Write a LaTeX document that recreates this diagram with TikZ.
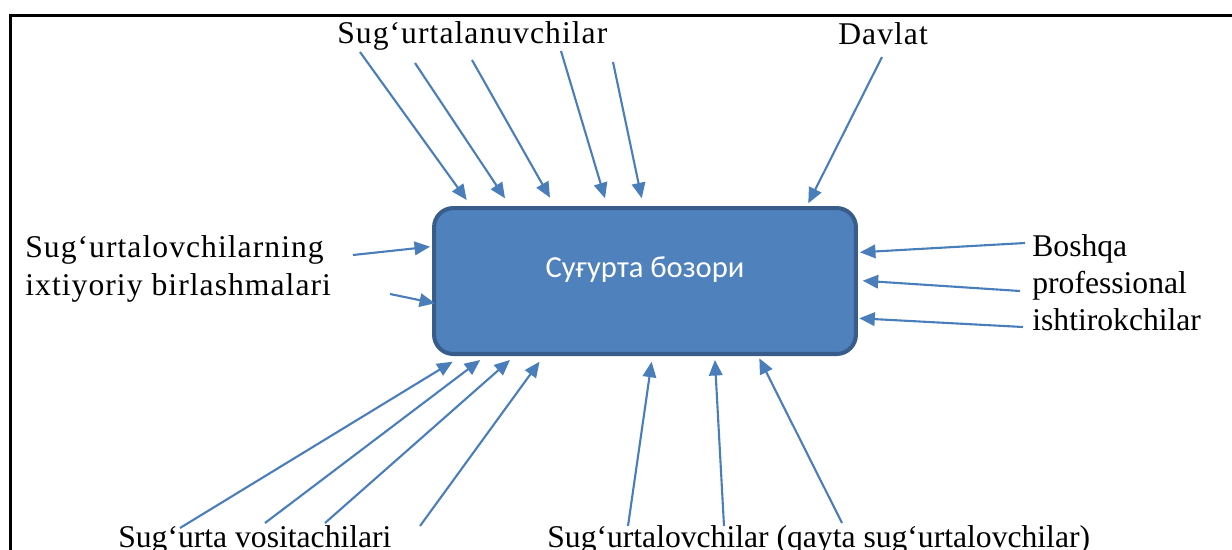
\documentclass[tikz,border=0pt]{standalone}
\usepackage{fontspec}
\setmainfont{Liberation Serif}
\newfontfamily\boxfont{Carlito}
\usetikzlibrary{arrows.meta,calc}
\definecolor{ink}{HTML}{000000}
\definecolor{mktfill}{HTML}{4F81BD}
\definecolor{mktline}{HTML}{385D8A}
\definecolor{feedc}{HTML}{4A7EBB}
\tikzset{
  mkt/.style={draw=mktline, line width=2.3pt, rounded corners=11pt, fill=mktfill,
              minimum width=8.44cm, minimum height=2.92cm, inner sep=0pt},
  mktlbl/.style={font=\boxfont\fontsize{17.4}{21}\selectfont, text=white, inner sep=0pt, anchor=base},
  who/.style={font=\fontsize{18}{20.8}\selectfont, align=left, inner sep=0pt, anchor=base west},
  whox/.style={who, font=\fontsize{18}{21.5}\selectfont\addfontfeatures{LetterSpace=3.3}},
  feed/.style={-{Triangle[length=3.1mm,width=2.7mm]}, line width=1.2pt, draw=feedc},
  frame/.style={draw=ink, line width=1.7pt},
}

\begin{document}
\begin{tikzpicture}[x=0.02cm, y=-0.02cm]
\useasboundingbox (0,0) rectangle (1232,549);
\clip (0,0) rectangle (1232,549);
\draw[frame] (10.5,560) |- (1240,15.5);
% market
\node[mkt] (market) at (645,281) {};
\node[mktlbl] (mkttxt) at (645,277) {Суғурта бозори};
% participants (base = last line)
\node[whox] (insured) at (337,43)  {Sug‘urtalanuvchilar};
\node[whox] (state)   at (838,44)  {Davlat};
\node[whox] (assoc)   at (25,295)  {Sug‘urtalovchilarning\\ixtiyoriy birlashmalari};
\node[who]  (other)   at (1032,330) {Boshqa\\professional\\ishtirokchilar};
\node[who]  (broker)  at (118,547) {Sug‘urta vositachilari};
\node[who]  (insurer) at (547,547) {Sug‘urtalovchilar (qayta sug‘urtalovchilar)};
% arrow tails
\coordinate (u1) at (360,52);  \coordinate (u2) at (415,63);  \coordinate (u3) at (472,60);
\coordinate (u4) at (561,51);  \coordinate (u5) at (613,62);  \coordinate (d1) at (882,57);
\coordinate (a1) at (353,255); \coordinate (a2) at (390,294);
\coordinate (p1) at (1025,243); \coordinate (p2) at (1020,291); \coordinate (p3) at (1023,327);
\coordinate (v1) at (180,528); \coordinate (v2) at (265,523); \coordinate (v3) at (325,523);
\coordinate (v4) at (420,526);
\coordinate (r1) at (628,526); \coordinate (r2) at (724,526); \coordinate (r3) at (842,523);
% top
\draw[feed] (u1) -- ($(market.north west)+(34.7,-6)$);
\draw[feed] (u2) -- ($(market.north west)+(73,-7.7)$);
\draw[feed] (u3) -- ($(market.north west)+(118,-8.3)$);
\draw[feed] (u4) -- ($(market.north west)+(173,-7.7)$);
\draw[feed] (u5) -- ($(market.north west)+(209.7,-7.7)$);
\draw[feed] (d1) -- ($(market.north east)+(-49.7,-2.7)$);
% left / right
\draw[feed] (a1) -- ($(market.north west)+(-2,40.7)$);
\draw[feed] (a2) -- ($(market.north west)+(3,97.3)$);
\draw[feed] (p1) -- ($(market.north east)+(2,46.3)$);
\draw[feed] (p2) -- ($(market.north east)+(4.7,74.7)$);
\draw[feed] (p3) -- ($(market.north east)+(1.3,112.3)$);
% bottom
\draw[feed] (v1) -- ($(market.south west)+(20.6,5.7)$);
\draw[feed] (v2) -- ($(market.south west)+(48.2,4)$);
\draw[feed] (v3) -- ($(market.south west)+(77.9,4)$);
\draw[feed] (v4) -- ($(market.south west)+(107.5,5.7)$);
\draw[feed] (r1) -- ($(market.south west)+(219.6,5.7)$);
\draw[feed] (r2) -- ($(market.south west)+(282.9,4)$);
\draw[feed] (r3) -- ($(market.south west)+(327.3,2.3)$);
\end{tikzpicture}
\end{document}
